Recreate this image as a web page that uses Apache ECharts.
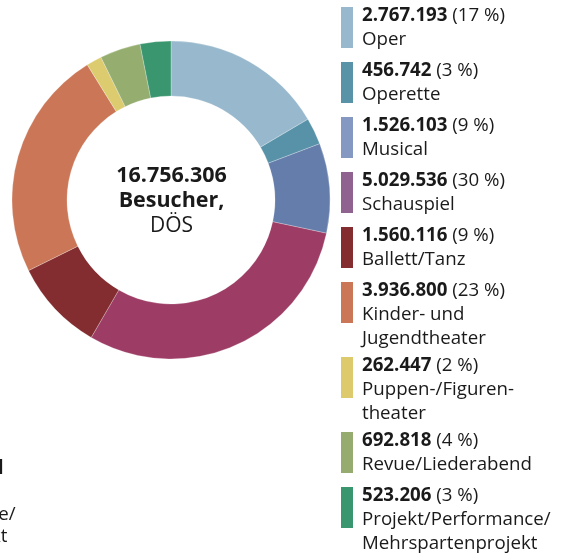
<!DOCTYPE html>
<html><head><meta charset="utf-8">
<script src="https://cdn.jsdelivr.net/npm/echarts@6/dist/echarts.min.js"></script>
<style>html,body{margin:0;padding:0;background:#fff}#c{width:565px;height:557px}</style>
</head><body><div id="c"></div>
<script>
const categories = ['Oper','Operette','Musical','Schauspiel','Ballett/Tanz','Kinder- und\nJugendtheater','Puppen-/Figuren-\ntheater','Revue/Liederabend','Projekt/Performance/\nMehrspartenprojekt'];
const visitors = [2767193,456742,1526103,5029536,1560116,3936800,262447,692818,523206];
const totalVisitors = 16756306;
const centerLines = ['Besucher,','DÖS'];
const sliceColors = ['#98b9cd','#5892a8','#657dab','#9d3d66','#832d30','#cb7656','#dccc6f','#95ae6f','#3a966f'];
const legendColors = ['#98b9cd','#5893a8','#8598c1','#906290','#832d31','#cb7656','#dcca6d','#95ab6f','#3a966f'];
const fragments = ['d','Projekt/Performance/','Mehrspartenprojekt'];

(function(){
const FONT = '"Open Sans", "Noto Sans", sans-serif';
const TXT = '#1a1a1a';
function fmt(n){ return String(n).replace(/\B(?=(\d{3})+(?!\d))/g,'.'); }

const chart = echarts.init(document.getElementById('c'), null, {renderer:'canvas'});

const graphics = [];
graphics.push({
  type:'text', x:171.5, y:201,
  style:{
    text:'{b|'+fmt(totalVisitors)+'}\n{b|'+centerLines[0]+'}\n{n|'+centerLines[1]+'}',
    textAlign:'center', textVerticalAlign:'middle',
    rich:{
      b:{fontFamily:FONT, fontWeight:'bold', fontSize:21.5, lineHeight:25, fill:TXT, align:'center'},
      n:{fontFamily:FONT, fontWeight:'normal', fontSize:21, lineHeight:25, fill:TXT, align:'center'}
    }
  }
});

let y0 = 7;
categories.forEach((name,i)=>{
  const nameLines = name.split('\n');
  const lines = 1 + nameLines.length;
  const pct = Math.round(visitors[i]/totalVisitors*100);
  graphics.push({type:'rect', shape:{x:341, y:y0, width:12, height:41}, style:{fill:legendColors[i]}});
  graphics.push({
    type:'text', x:362, y:y0-3,
    style:{
      text:'{b|'+fmt(visitors[i])+'}{n| ('+pct+' %)}\n' + nameLines.map(l=>'{n|'+l+'}').join('\n'),
      textVerticalAlign:'top',
      rich:{
        b:{fontFamily:FONT, fontWeight:'bold', fontSize:18.7, lineHeight:24, fill:TXT},
        n:{fontFamily:FONT, fontWeight:'normal', fontSize:18.7, lineHeight:24, fill:TXT}
      }
    }
  });
  y0 += 15 + lines*20;
});

graphics.push({type:'text', x:3.5, y:478.5, style:{text:fragments[0], textAlign:'right', textVerticalAlign:'bottom', font:'bold 18.7px '+FONT, fill:TXT}});
graphics.push({type:'text', x:15.5, y:524.5, style:{text:fragments[1], textAlign:'right', textVerticalAlign:'bottom', font:'18.7px '+FONT, fill:TXT}});
graphics.push({type:'text', x:7.5, y:546.5, style:{text:fragments[2], textAlign:'right', textVerticalAlign:'bottom', font:'18.7px '+FONT, fill:TXT}});

chart.setOption({
  animation:false,
  backgroundColor:'#fff',
  series:[{
    type:'pie',
    center:[171,200],
    radius:[104,159],
    startAngle:90,
    clockwise:true,
    label:{show:false},
    labelLine:{show:false},
    emphasis:{disabled:true},
    itemStyle:{borderColor:'rgba(255,255,255,0.5)', borderWidth:0.5},
    data:categories.map((c,i)=>({name:c, value:visitors[i], itemStyle:{color:sliceColors[i]}}))
  }],
  graphic:graphics
});
})();
</script>
</body></html>
